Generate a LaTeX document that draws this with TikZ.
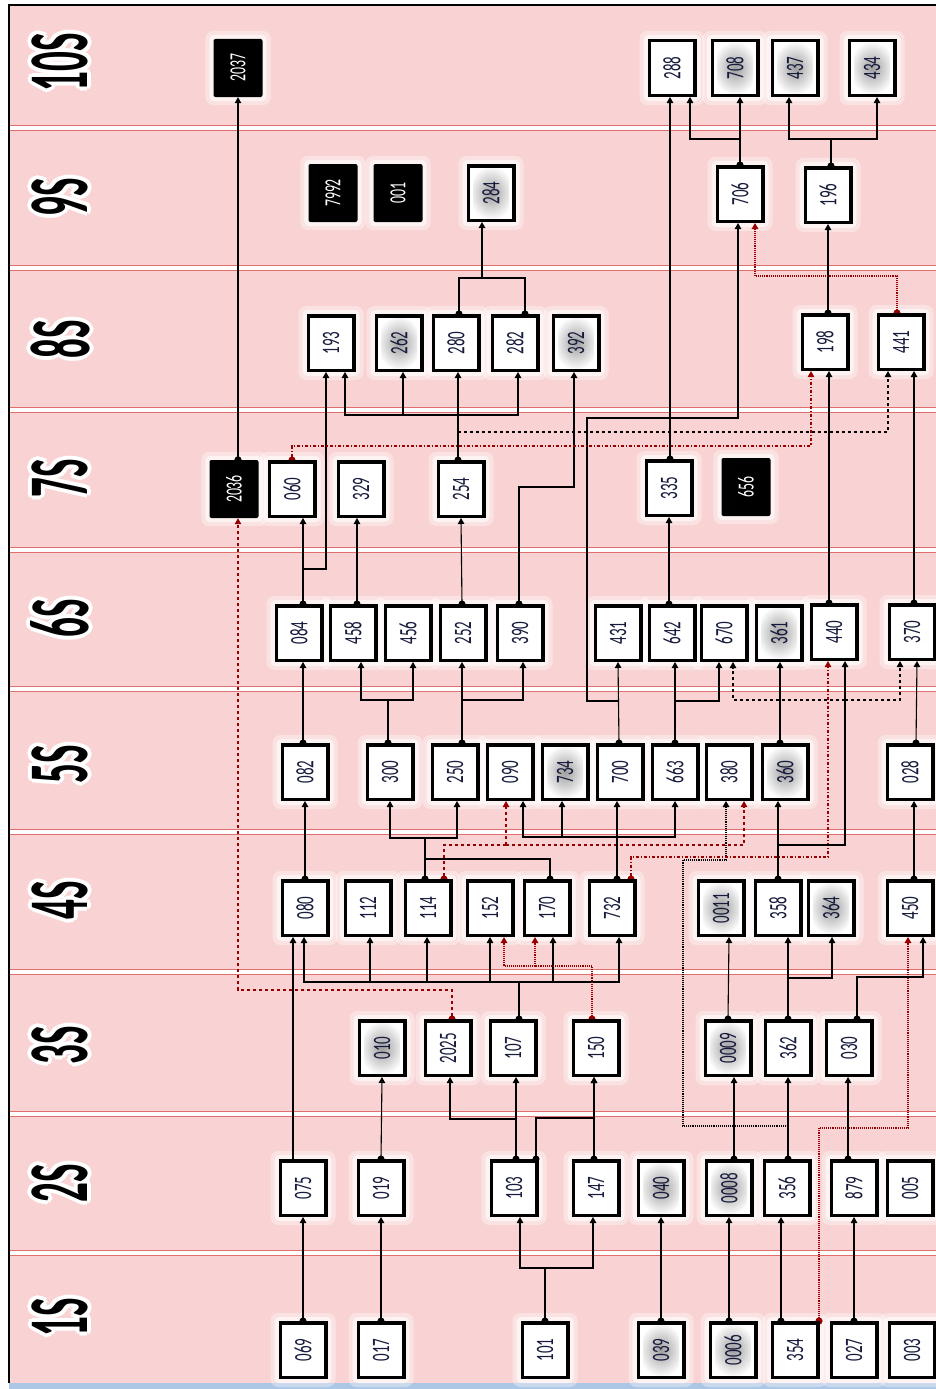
\documentclass[tikz,border=0pt]{standalone}
\usepackage{fontspec}
\setmainfont{Carlito}
\usetikzlibrary{arrows.meta,calc}
\definecolor{bandpink}{RGB}{249,211,211}
\definecolor{sepred}{RGB}{224,112,112}
\definecolor{darkred}{RGB}{150,0,0}
\definecolor{barblue}{RGB}{172,198,230}
\definecolor{numink}{RGB}{22,26,60}
\pgfdeclarelayer{back}
\pgfdeclarelayer{glow}
\pgfdeclarelayer{wires}
\pgfsetlayers{back,glow,wires,main}
\newcommand\boxno[1]{\rotatebox{90}{\scalebox{0.6}[1]{#1}}}
\newcommand\labbox[1]{\rotatebox{90}{\scalebox{0.46}[1]{#1}}}
\tikzset{
  box/.style={draw, line width=3.5pt, fill=white, text=numink, minimum width=45.5pt,
    minimum height=54.5pt, inner sep=0pt, font=\fontsize{25}{25}\selectfont},
  gbox/.style={box, path picture={\shade[inner color=black!38, outer color=white]
    ([shift={(-18pt,-26pt)}]path picture bounding box.center) rectangle
    ([shift={(18pt,26pt)}]path picture bounding box.center);}},
  kbox/.style={fill=black, text=white, rounded corners=2pt, minimum width=49pt,
    minimum height=58pt, inner sep=0pt, font=\fontsize{23}{23}\selectfont},
  labtxt/.style={inner sep=0pt, font=\fontsize{85}{85}\selectfont\bfseries},
  wire/.style={draw=black, line width=1.1pt},
  link/.style={wire, {Circle[length=7pt]}-{Triangle[length=6pt,width=6.5pt]}, shorten <=-3.5pt},
  trunk/.style={wire, {Circle[length=7pt]}-, shorten <=-3.5pt},
  branch/.style={wire, -{Triangle[length=6pt,width=6.5pt]}},
  heavy/.style={line width=2.2pt},
  reddash/.style={draw=darkred, dashed},
  reddot/.style={draw=darkred, densely dotted, line width=1.6pt},
  reddashdot/.style={draw=darkred, dash dot},
  blackdash/.style={dashed},
  blackdot/.style={densely dotted, line width=1.4pt}
}
\newcommand\steplab[3]{%
  \foreach \a in {0,45,...,315} {\node[labtxt, text=white] at ($(60,#2)+(\a:4)$) {\labbox{#3}};}
  \node[labtxt] (#1) at (60,#2) {\labbox{#3}};}

\begin{document}
\begin{tikzpicture}[x=1pt, y=-1pt]
\useasboundingbox (0,0) rectangle (936,1389);

% bands
\begin{pgfonlayer}{back}
  \fill[white] (0,0) rectangle (936,1389);
  \fill[bandpink] (9,5) rectangle (936,1383);
  \fill[barblue] (9,1383) rectangle (936,1389);
  \foreach \s in {125,265,407,547,686,829,969,1111,1250} {
    \fill[white] (9,\s) rectangle (936,\s+5);
    \draw[sepred, line width=0.9pt] (9,\s) -- (936,\s) (9,\s+5) -- (936,\s+5);
  }
  \draw[line width=1.2pt] (9,1383) -- (9,5) -- (936,5);
\end{pgfonlayer}

% row labels
\steplab{l10}{62}{10S}
\steplab{l9}{197}{9S}
\steplab{l8}{339}{8S}
\steplab{l7}{478}{7S}
\steplab{l6}{618}{6S}
\steplab{l5}{764}{5S}
\steplab{l4}{900}{4S}
\steplab{l3}{1045}{3S}
\steplab{l2}{1183}{2S}
\steplab{l1}{1317}{1S}

% 10s
\node[kbox] (b2037) at (238,68) {\boxno{2037}};
\node[box]  (b288)  at (672,68) {\boxno{288}};
\node[gbox] (b708)  at (735,68) {\boxno{708}};
\node[gbox] (b437)  at (795,68) {\boxno{437}};
\node[gbox] (b434)  at (872,68) {\boxno{434}};
% 9s
\node[kbox] (b7992) at (333,193) {\boxno{7992}};
\node[kbox] (b001)  at (398,193) {\boxno{001}};
\node[gbox] (b284)  at (491,193) {\boxno{284}};
\node[box]  (b706)  at (740,194) {\boxno{706}};
\node[box]  (b196)  at (828,195) {\boxno{196}};
% 8s
\node[box]  (b193) at (331,343) {\boxno{193}};
\node[gbox] (b262) at (399,343) {\boxno{262}};
\node[box]  (b280) at (456,343) {\boxno{280}};
\node[box]  (b282) at (515,343) {\boxno{282}};
\node[gbox] (b392) at (576,343) {\boxno{392}};
\node[box]  (b198) at (825,342) {\boxno{198}};
\node[box]  (b441) at (901,342) {\boxno{441}};
% 7s
\node[kbox] (b2036) at (234,489) {\boxno{2036}};
\node[box]  (b060)  at (292,489) {\boxno{060}};
\node[box]  (b329)  at (361,489) {\boxno{329}};
\node[box]  (b254)  at (461,489) {\boxno{254}};
\node[box]  (b335)  at (669,488) {\boxno{335}};
\node[kbox] (b656)  at (746,487) {\boxno{656}};
% 6s
\node[box]  (b084) at (299,633) {\boxno{084}};
\node[box]  (b458) at (353,633) {\boxno{458}};
\node[box]  (b456) at (408,633) {\boxno{456}};
\node[box]  (b252) at (463,633) {\boxno{252}};
\node[box]  (b390) at (520,633) {\boxno{390}};
\node[box]  (b431) at (618,633) {\boxno{431}};
\node[box]  (b642) at (672,633) {\boxno{642}};
\node[box]  (b670) at (724,633) {\boxno{670}};
\node[gbox] (b361) at (779,633) {\boxno{361}};
\node[box]  (b440) at (834,632) {\boxno{440}};
\node[box]  (b370) at (912,632) {\boxno{370}};
% 5s
\node[box]  (b082) at (305,772) {\boxno{082}};
\node[box]  (b300) at (390,772) {\boxno{300}};
\node[box]  (b250) at (455,772) {\boxno{250}};
\node[box]  (b090) at (510,772) {\boxno{090}};
\node[gbox] (b734) at (565,772) {\boxno{734}};
\node[box]  (b700) at (620,772) {\boxno{700}};
\node[box]  (b663) at (675,772) {\boxno{663}};
\node[box]  (b380) at (729,772) {\boxno{380}};
\node[gbox] (b360) at (785,772) {\boxno{360}};
\node[box]  (b028) at (910,772) {\boxno{028}};
% 4s
\node[box]  (b080)  at (305,908) {\boxno{080}};
\node[box]  (b112)  at (368,908) {\boxno{112}};
\node[box]  (b114)  at (428,908) {\boxno{114}};
\node[box]  (b152)  at (490,908) {\boxno{152}};
\node[box]  (b170)  at (547,908) {\boxno{170}};
\node[box]  (b732)  at (612,908) {\boxno{732}};
\node[gbox] (b0011) at (721,908) {\boxno{0011}};
\node[box]  (b358)  at (778,908) {\boxno{358}};
\node[gbox] (b364)  at (831,908) {\boxno{364}};
\node[box]  (b450)  at (910,908) {\boxno{450}};
% 3s
\node[gbox] (b010)  at (382,1048) {\boxno{010}};
\node[box]  (b2025) at (448,1048) {\boxno{2025}};
\node[box]  (b107)  at (513,1048) {\boxno{107}};
\node[box]  (b150)  at (596,1048) {\boxno{150}};
\node[gbox] (b0009) at (728,1048) {\boxno{0009}};
\node[box]  (b362)  at (788,1048) {\boxno{362}};
\node[box]  (b030)  at (849,1048) {\boxno{030}};
% 2s
\node[box]  (b075)  at (303,1188) {\boxno{075}};
\node[box]  (b019)  at (381,1188) {\boxno{019}};
\node[box]  (b103)  at (514,1188) {\boxno{103}};
\node[box]  (b147)  at (596,1188) {\boxno{147}};
\node[gbox] (b040)  at (661,1188) {\boxno{040}};
\node[gbox] (b0008) at (729,1188) {\boxno{0008}};
\node[box]  (b356)  at (787,1188) {\boxno{356}};
\node[box]  (b879)  at (854,1188) {\boxno{879}};
\node[box]  (b005)  at (910,1188) {\boxno{005}};
% 1s
\node[box]  (b069)  at (303,1350) {\boxno{069}};
\node[box]  (b017)  at (381,1350) {\boxno{017}};
\node[box]  (b101)  at (545,1350) {\boxno{101}};
\node[gbox] (b039)  at (661,1350) {\boxno{039}};
\node[gbox] (b0006) at (733,1350) {\boxno{0006}};
\node[box]  (b354)  at (795,1350) {\boxno{354}};
\node[box]  (b027)  at (854,1350) {\boxno{027}};
\node[box]  (b003)  at (912,1350) {\boxno{003}};

% white halo round the boxes
\begin{pgfonlayer}{glow}
  \foreach \n in {b2037,b288,b708,b437,b434,b7992,b001,b284,b706,b196,b193,b262,b280,b282,
      b392,b198,b441,b2036,b060,b329,b254,b335,b656,b084,b458,b456,b252,b390,b431,b642,b670,
      b361,b440,b370,b082,b300,b250,b090,b734,b700,b663,b380,b360,b028,b080,b112,b114,b152,
      b170,b732,b0011,b358,b364,b450,b010,b2025,b107,b150,b0009,b362,b030,b075,b019,b103,
      b147,b040,b0008,b356,b879,b005,b069,b017,b101,b039,b0006,b354,b027,b003} {
    \fill[white, opacity=0.35, rounded corners=8pt]
      ([shift={(-8pt,-8pt)}]\n.south west) rectangle ([shift={(8pt,8pt)}]\n.north east);
    \fill[white, opacity=0.6, rounded corners=5pt]
      ([shift={(-4pt,-4pt)}]\n.south west) rectangle ([shift={(4pt,4pt)}]\n.north east);
  }
\end{pgfonlayer}

\begin{pgfonlayer}{wires}
% 1s -> 2s
\draw[link] (b069.north) -- (b075.south);
\draw[link] (b017.north) -- (b019.south);
\draw[trunk] (b101.north) -- (545,1268) coordinate (j101);
\draw[branch] (j101) -| ([xshift=6pt]b103.south);
\draw[branch] (j101) -| ([xshift=-3pt]b147.south);
\draw[link] (b039.north) -- (b040.south);
\draw[link] ([xshift=-4pt]b0006.north) -- (b0008.south);
\draw[link] ([xshift=-14pt]b354.north) -- ([xshift=-6pt]b356.south);
\draw[link] (b027.north) -- (b879.south);
\draw[link, reddot] ([xshift=24pt]b354.north) |- (908,1128) -- ([xshift=-2pt]b450.south);

% 2s -> 3s
\draw[branch] ([xshift=-10pt]b075.north) -- ([xshift=-12pt]b080.south);
\draw[link] (b019.north) -- (b010.south);
\draw[link] ([xshift=2pt]b103.north) -- ([xshift=3pt]b107.south);
\draw[branch] (516,1119) -| ([xshift=2pt]b2025.south);
\draw[link] ([xshift=22pt]b103.north) |- (594,1118) -- ([xshift=-2pt]b150.south);
\draw[link] ([xshift=-2pt]b147.north) -- ([xshift=-2pt]b150.south);
\draw[link] ([xshift=5pt]b0008.north) -- ([xshift=6pt]b0009.south);
\draw[link] ([xshift=1pt]b356.north) -- (b362.south);
\draw[link] ([xshift=-6pt]b879.north) -- ([xshift=-1pt]b030.south);
\draw[branch, blackdot] (788,1126) -| (683,860) -| ([xshift=-3pt]b380.south);

% 3s -> 4s
\draw[link, reddash] ([xshift=4pt]b2025.north) |- (238,990) -- ([xshift=4pt]b2036.south);
\draw[trunk] ([xshift=6pt]b107.north) -- (519,982) coordinate (j107);
\draw[branch] (j107) -| ([xshift=-1pt]b080.south);
\draw[branch] (j107) -| ([xshift=2pt]b112.south);
\draw[branch] (j107) -| ([xshift=-1pt]b114.south);
\draw[branch] (j107) -| (b152.south);
\draw[branch] (j107) -| ([xshift=6pt]b170.south);
\draw[branch] (j107) -| ([xshift=7pt]b732.south);
\draw[trunk, reddot] ([xshift=-4pt]b150.north) |- (535,966) coordinate (j150);
\draw[branch, reddot] (j150) -- ([xshift=-12pt]b170.south);
\draw[branch, reddot] (j150) -| ([xshift=14pt]b152.south);
\draw[link] (b0009.north) -- ([xshift=8pt]b0011.south);
\draw[trunk] (b362.north) -- (788,978) coordinate (j362);
\draw[branch] (j362) -- ([xshift=10pt]b358.south);
\draw[branch] (j362) -| ([xshift=1pt]b364.south);
\draw[link] ([xshift=8pt]b030.north) |- (923,977) -- ([xshift=13pt]b450.south);

% 4s -> 5s
\draw[link] (b080.north) -- (b082.south);
\draw[trunk, heavy] ([xshift=-3pt]b114.north) -- (425,838) coordinate (j114);
\draw[branch] (j114) -| (b300.south);
\draw[branch] (j114) -| ([xshift=2pt]b250.south);
\draw[trunk] ([xshift=3pt]b170.north) |- (425,859);
\draw[trunk, reddash] ([xshift=16pt]b114.north) |- (506,845) coordinate (j114r);
\draw[branch, reddash] (j114r) -- ([xshift=-4pt]b090.south);
\draw[branch, reddash] (j114r) -| ([xshift=15pt]b380.south);
\draw[link] ([xshift=5pt]b732.north) -- ([xshift=-3pt]b700.south);
\draw[branch] (617,837) -| ([xshift=13pt]b090.south);
\draw[branch] (617,837) -| ([xshift=-3pt]b734.south);
\draw[branch] (617,837) -| (b663.south);
\draw[link, reddashdot] ([xshift=19pt]b732.north) |- (828,857) -- ([xshift=-6pt]b440.south);
\draw[link] (b358.north) -- ([xshift=-7pt]b360.south);
\draw[branch] (778,845) -| ([xshift=11pt]b440.south);
\draw[link] ([xshift=4pt]b450.north) -- ([xshift=4pt]b028.south);

% 5s -> 6s
\draw[link] ([xshift=-2pt]b082.north) -- ([xshift=4pt]b084.south);
\draw[trunk, heavy] ([xshift=-2pt]b300.north) -- (388,700) coordinate (j300);
\draw[branch] (j300) -| ([xshift=8pt]b458.south);
\draw[branch] (j300) -| ([xshift=5pt]b456.south);
\draw[link, heavy] ([xshift=7pt]b250.north) -- ([xshift=-1pt]b252.south);
\draw[branch] (462,700) -| ([xshift=3pt]b390.south);
\draw[link] ([xshift=-1pt]b700.north) -- (b431.south);
\draw[branch] (619,701) -| (587,418) -| ([xshift=-2pt]b706.south);
\draw[link] (b663.north) -- ([xshift=3pt]b642.south);
\draw[branch] (675,701) -| ([xshift=-5pt]b670.south);
\draw[link] ([xshift=-5pt]b360.north) -- ([xshift=1pt]b361.south);
\draw[branch, blackdash] (845,700) -| ([xshift=9pt]b670.south);
\draw[branch, blackdash] (845,700) -| ([xshift=-12pt]b370.south);
\draw[link] ([xshift=6pt]b028.north) -- ([xshift=5pt]b370.south);

% 6s -> 7s
\draw[link] ([xshift=4pt]b084.north) -- ([xshift=11pt]b060.south);
\draw[branch] (303,569) -| ([xshift=-5pt]b193.south);
\draw[link] ([xshift=4pt]b458.north) -- ([xshift=-4pt]b329.south);
\draw[link] ([xshift=-1pt]b252.north) -- (b254.south);
\draw[link, heavy] ([xshift=-1pt]b390.north) |- (574,487) -- ([xshift=-2pt]b392.south);
\draw[link] ([xshift=-3pt]b642.north) -- (b335.south);
\draw[link] ([xshift=-5pt]b440.north) -- ([xshift=4pt]b198.south);
\draw[link] ([xshift=2pt]b370.north) -- ([xshift=13pt]b441.south);

% 7s -> 8s
\draw[link] ([xshift=-3pt]b254.north) -- ([xshift=2pt]b280.south);
\draw[branch] (458,415) -| ([xshift=14pt]b193.south);
\draw[branch] (458,415) -| ([xshift=4pt]b262.south);
\draw[branch] (458,415) -| ([xshift=3pt]b282.south);
\draw[branch, blackdash] (458,432) -| ([xshift=-13pt]b441.south);
\draw[link, reddashdot] (b060.north) |- (811,446) -- ([xshift=-14pt]b198.south);
\draw[link] ([xshift=1pt]b335.north) -- ([xshift=-2pt]b288.south);
\draw[link] ([xshift=4pt]b2036.north) -- (b2037.south);

% 8s -> 9s
\draw[trunk, heavy] ([xshift=3pt]b280.north) |- (482,278) coordinate (j280);
\draw[trunk, heavy] ([xshift=10pt]b282.north) |- (j280);
\draw[branch, heavy] (j280) -- ([xshift=-9pt]b284.south);
\draw[link] ([xshift=3pt]b198.north) -- (b196.south);
\draw[link, reddot] ([xshift=-4pt]b441.north) |- (755,276) -- ([xshift=15pt]b706.south);

% 9s -> 10s
\draw[trunk, heavy] (b706.north) -- (740,139) coordinate (j706);
\draw[branch] (j706) -| ([xshift=18pt]b288.south);
\draw[branch] (j706) -- ([xshift=5pt]b708.south);
\draw[trunk, heavy] ([xshift=3pt]b196.north) -- (831,139) coordinate (j196);
\draw[branch] (j196) -| ([xshift=-6pt]b437.south);
\draw[branch] (j196) -| ([xshift=5pt]b434.south);
\end{pgfonlayer}
\end{tikzpicture}
\end{document}
